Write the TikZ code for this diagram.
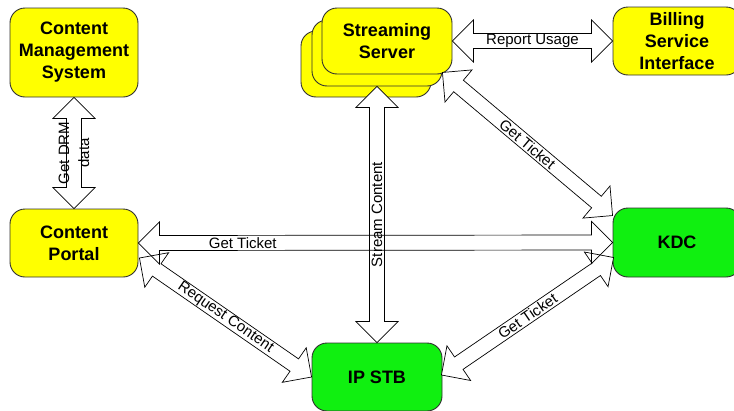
\documentclass[tikz,border=0pt]{standalone}
\usepackage{fontspec}
\setmainfont{Liberation Sans}
\usetikzlibrary{calc}

\definecolor{boxyellow}{HTML}{FFFF00}
\definecolor{boxgreen}{HTML}{10F010}
\definecolor{edgegray}{HTML}{303030}

\tikzset{
  box/.style={draw=edgegray, line width=0.9pt, rounded corners=15pt,
    minimum width=128pt, inner sep=0pt, align=center,
    font=\fontsize{18}{22}\selectfont\bfseries},
  ybox/.style={box, fill=boxyellow},
  gbox/.style={box, fill=boxgreen},
  arrowfill/.style={fill=white},
  arrowline/.style={draw=black, line width=0.7pt, line join=miter},
  lbl/.style={font=\fontsize{15}{20}\selectfont, inner sep=0pt},
}

% Double-headed block arrow between two named coordinates:
% shaft half-width 7.5, head half-width 21, head length 21.
\newcommand\blockarrow[3][]{%
  \coordinate (ba-a) at ($(#2)!21pt!(#3)$);
  \coordinate (ba-b) at ($(#3)!21pt!(#2)$);
  \path[#1] (#2)
    -- ($(ba-a)!21pt!90:(#3)$) -- ($(ba-a)!7.5pt!90:(#3)$)
    -- ($(ba-b)!7.5pt!-90:(#2)$) -- ($(ba-b)!21pt!-90:(#2)$)
    -- (#3)
    -- ($(ba-b)!21pt!90:(#2)$) -- ($(ba-b)!7.5pt!90:(#2)$)
    -- ($(ba-a)!7.5pt!-90:(#3)$) -- ($(ba-a)!21pt!-90:(#3)$)
    -- cycle;
}

\begin{document}
\begin{tikzpicture}[x=1pt, y=-1pt]
\useasboundingbox (0,0) rectangle (734,410);
\clip (0,0) rectangle (734,410);

% boxes
\node[ybox, minimum height=89pt] (cms) at (74,52.5) {Content\\Management\\System};
\node[ybox, minimum height=68pt] (portal) at (74,243) {Content\\Portal};
\node[ybox, minimum width=130pt, minimum height=66pt] (ssb) at (366,64) {};
\node[ybox, minimum width=130pt, minimum height=66pt] (ssm) at (377,53) {};
\node[ybox, minimum width=130pt, minimum height=66pt] (ss) at (387,41) {Streaming\\Server};
\node[ybox, minimum height=68pt] (bill) at (677,41) {Billing\\Service\\Interface};
\node[gbox, minimum height=69pt] (kdc) at (677,242.5) {KDC};
\node[gbox, minimum width=130pt, minimum height=68pt] (ip) at (377,377) {IP STB};

% arrow end points
\coordinate (drm-t) at (cms.south);
\coordinate (drm-b) at (portal.north);
\coordinate (ru-l) at (ss.east);
\coordinate (ru-r) at (bill.west);
\coordinate (sc-t) at (ip.north |- ssm.south);
\coordinate (sc-b) at (ip.north);
\coordinate (gt-l) at (portal.east);
\coordinate (gt-r) at (kdc.west);
\coordinate (gk-s) at ($(ss.south east)+(-10,-2)$);
\coordinate (gk-k) at ($(kdc.north west)+(0,8)$);
\coordinate (rc-p) at ($(portal.east)+(1,15)$);
\coordinate (rc-i) at (ip.west);
\coordinate (gi-i) at ($(ip.east)+(-1,-2)$);
\coordinate (gi-k) at ($(kdc.west)+(1,15)$);

% white fills first, outlines second
\foreach \opt in {arrowfill, arrowline}{
  \blockarrow[\opt]{drm-t}{drm-b}
  \blockarrow[\opt]{ru-l}{ru-r}
  \blockarrow[\opt]{gk-s}{gk-k}
  \blockarrow[\opt]{rc-p}{rc-i}
  \blockarrow[\opt]{gi-i}{gi-k}
}
\blockarrow[arrowfill]{sc-t}{sc-b}
\blockarrow[arrowline]{sc-t}{sc-b}
\blockarrow[arrowline]{gt-l}{gt-r}

% labels
\path (drm-t) -- (drm-b) node[midway, rotate=90, lbl, align=center] (l-drm) {Get DRM\\data};
\path (ru-l) -- (ru-r) node[midway, lbl] (l-ru) {Report Usage};
\path (sc-b) -- (sc-t) node[midway, rotate=90, lbl] (l-sc) {Stream Content};
\path (gt-l) -- (gt-r) node[pos=0.22, lbl] (l-gt) {Get Ticket};
\path (gk-s) -- (gk-k) node[midway, sloped, lbl] (l-gk) {Get Ticket};
\path (rc-p) -- (rc-i) node[midway, sloped, lbl] (l-rc) {Request Content};
\path (gi-i) -- (gi-k) node[midway, sloped, lbl] (l-gi) {Get Ticket};
\end{tikzpicture}
\end{document}
